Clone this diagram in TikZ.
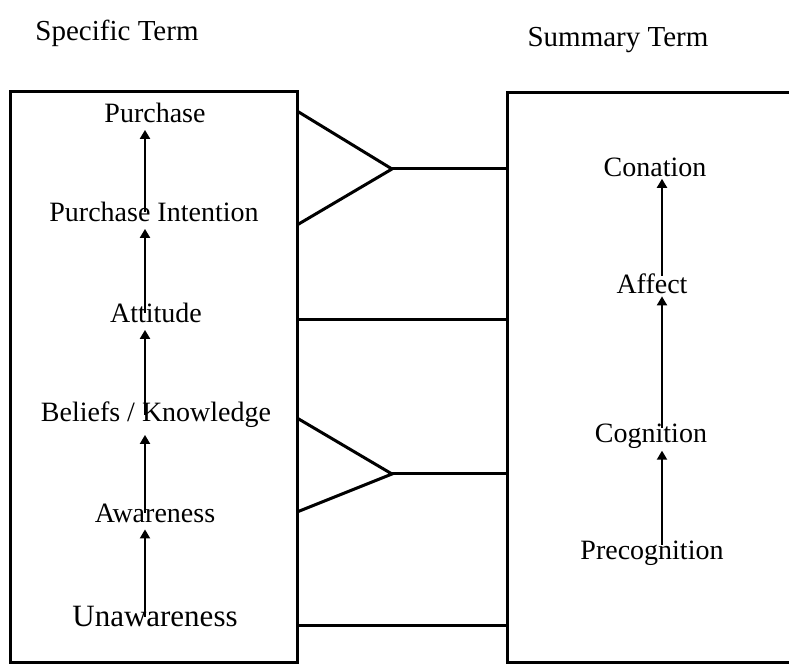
\documentclass[tikz,border=0pt]{standalone}
\usepackage{fontspec}
\setmainfont{Liberation Serif}
\usetikzlibrary{arrows.meta}

\tikzset{
  lbl/.style={font=\fontsize{14}{16}\selectfont},
  rlbl/.style={font=\fontsize{14}{16}\selectfont, inner sep=1pt},
  up/.style={-{Triangle[length=4.5pt,width=5pt]}, line width=1pt},
  box/.style={line width=1.5pt},
  link/.style={line width=1.5pt},
}

\begin{document}
\begin{tikzpicture}[x=0.5pt,y=-0.5pt]
        \useasboundingbox (0,0) rectangle (789,667);

        \node[font=\fontsize{14.5}{16}\selectfont] (spec) at (117,33) {Specific Term};
        \node[font=\fontsize{14.5}{16}\selectfont] (summ) at (618,40) {Summary Term};

        % the two boxes
        \draw[box] (10,92) rectangle (297,663);
        \draw[box] (507,93) rectangle (830,663);

        % specific terms
        \node[lbl] (purch) at (155,113) {Purchase};
        \node[lbl] (pint) at (154,212) {Purchase Intention};
        \node[lbl] (att) at (156,313) {Attitude};
        \node[lbl] (bel) at (156,415) {Beliefs / Knowledge};
        \node[lbl] (awa) at (155,513) {Awareness};
        \node[font=\fontsize{15.5}{18}\selectfont] (unaw) at (155,617) {Unawareness};

        \coordinate (lx) at (145,0);
        \foreach \a/\b in {pint/purch, att/pint, bel/att, awa/bel, unaw/awa}
          \draw[up] (lx |- \a.center) -- (lx |- \b.south);

        % summary terms
        \node[rlbl] (con) at (655,167) {Conation};
        \node[rlbl] (aff) at (652,284) {Affect};
        \node[rlbl] (cog) at (651,436) {Cognition};
        \node[rlbl] (precog) at (652,553) {Precognition};

        \coordinate (rx) at (662,0);
        \foreach \a/\b in {aff/con, cog/aff, precog/cog}
          \draw[up] (rx |- \a.center) ++(0,-8) -- (rx |- \b.south);

        % links between the boxes
        \coordinate (a1) at (297,111);
        \coordinate (a2) at (297,225);
        \coordinate (t1) at (392,169);
        \coordinate (b1) at (507,169);
        \coordinate (a3) at (297,320);
        \coordinate (b3) at (507,320);
        \coordinate (a4) at (297,418);
        \coordinate (a5) at (297,512);
        \coordinate (t2) at (392,474);
        \coordinate (b2) at (507,474);
        \coordinate (a6) at (297,626);
        \coordinate (b4) at (507,626);

        \draw[link] (a1) -- (t1) -- (a2);
        \draw[link] (t1) -- (b1);
        \draw[link] (a3) -- (b3);
        \draw[link] (a4) -- (t2) -- (a5);
        \draw[link] (t2) -- (b2);
        \draw[link] (a6) -- (b4);
\end{tikzpicture}
\end{document}
